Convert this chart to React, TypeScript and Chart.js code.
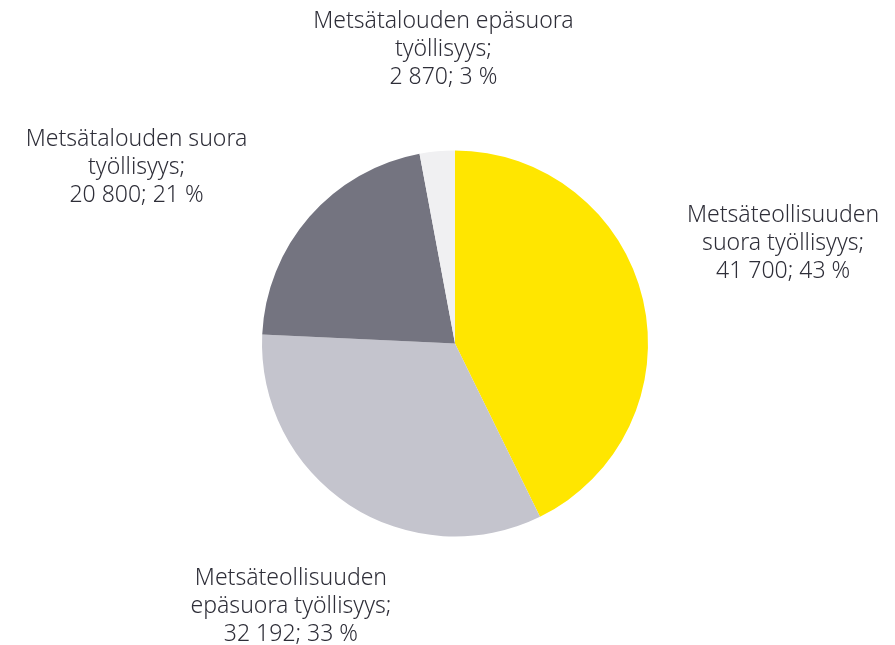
import React, { useEffect, useRef } from "react";
import { Chart, registerables } from "chart.js";

Chart.register(...registerables);

const categories = [
  ["Metsäteollisuuden", "suora työllisyys;"],
  ["Metsäteollisuuden", "epäsuora työllisyys;"],
  ["Metsätalouden suora", "työllisyys;"],
  ["Metsätalouden epäsuora", "työllisyys;"],
];
const values = [41700, 32192, 20800, 2870];
const valueLabels = ["41 700", "32 192", "20 800", "2 870"];
const percentLabels = ["43 %", "33 %", "21 %", "3 %"];
const colors = ["#FFE600", "#C4C4CD", "#747480", "#F0F0F2"];

// label centre offsets relative to the pie centre, in units of the radius
const labelOffsets = [
  [1.70, -0.52],
  [-0.85, 1.36],
  [-1.65, -0.91],
  [-0.06, -1.525],
];

const labelPlugin = {
  id: "outerLabels",
  afterDatasetsDraw(chart: any) {
    const ctx = chart.ctx;
    const meta = chart.getDatasetMeta(0);
    ctx.save();
    ctx.font = "300 23px 'Noto Sans'";
    ctx.fillStyle = "#2E2E38";
    ctx.textAlign = "center";
    ctx.textBaseline = "middle";
    const lh = 28;
    meta.data.forEach((arc: any, i: number) => {
      const cx = arc.x;
      const cy = arc.y;
      const r = arc.outerRadius;
      const lx = cx + labelOffsets[i][0] * r;
      const ly = cy + labelOffsets[i][1] * r;
      const lines = [...categories[i], `${valueLabels[i]}; ${percentLabels[i]}`];
      lines.forEach((t, j) => {
        ctx.fillText(t, lx, ly + (j - (lines.length - 1) / 2) * lh);
      });
    });
    ctx.restore();
  },
};

export default function App() {
  const ref = useRef<HTMLCanvasElement>(null);
  useEffect(() => {
    if (!ref.current) return;
    const chart = new Chart(ref.current, {
      type: "pie",
      data: {
        labels: categories.map((c) => c.join(" ")),
        datasets: [
          {
            data: values,
            backgroundColor: colors,
            borderWidth: 0,
          },
        ],
      },
      options: {
        animation: false,
        responsive: true,
        maintainAspectRatio: false,
        layout: { padding: { left: 262, right: 247, top: 150, bottom: 108 } },
        plugins: {
          legend: { display: false },
          tooltip: { enabled: false },
        },
      },
      plugins: [labelPlugin],
    });
    return () => chart.destroy();
  }, []);
  return (
    <div style={{ position: "absolute", left: 0, top: 0, width: 895, height: 645, background: "#fff" }}>
      <canvas ref={ref} />
    </div>
  );
}
